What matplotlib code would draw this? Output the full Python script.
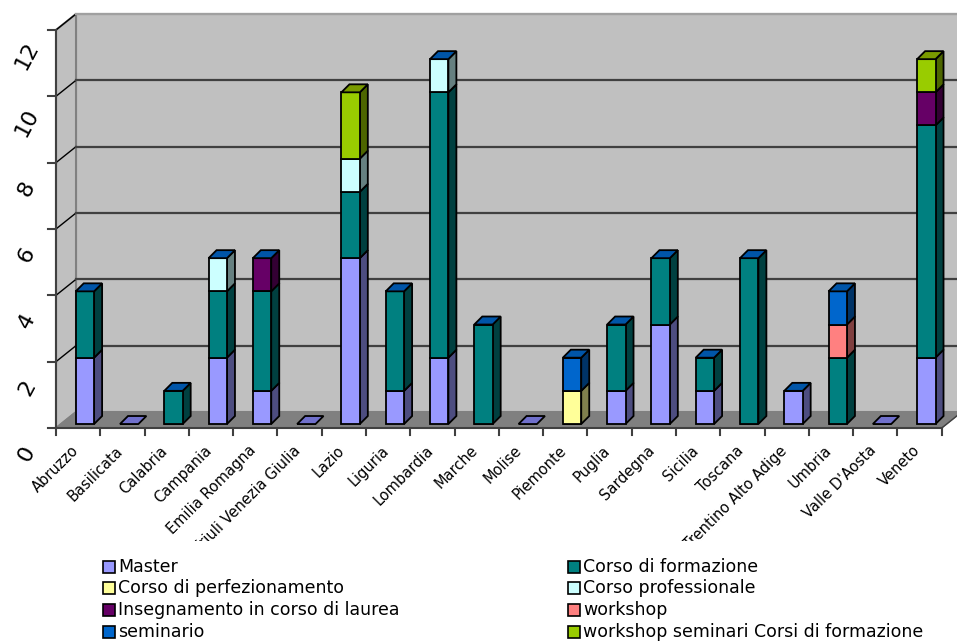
import matplotlib
matplotlib.use("Agg")
import matplotlib.pyplot as plt
from matplotlib.patches import Polygon, Rectangle
import numpy as np

regions = ["Abruzzo", "Basilicata", "Calabria", "Campania", "Emilia Romagna",
           "Friuli Venezia Giulia", "Lazio", "Liguria", "Lombardia", "Marche",
           "Molise", "Piemonte", "Puglia", "Sardegna", "Sicilia", "Toscana",
           "Trentino Alto Adige", "Umbria", "Valle D'Aosta", "Veneto"]

series_names = ["Master", "Corso di formazione", "Corso di perfezionamento",
                "Corso professionale", "Insegnamento in corso di laurea",
                "workshop", "seminario", "workshop seminari Corsi di formazione"]

master        = [2, 0, 0, 2, 1, 0, 5, 1, 2, 0, 0, 0, 1, 3, 1, 0, 1, 0, 0, 2]
corso_form    = [2, 0, 1, 2, 3, 0, 2, 3, 8, 3, 0, 0, 2, 2, 1, 5, 0, 2, 0, 7]
corso_perf    = [0, 0, 0, 0, 0, 0, 0, 0, 0, 0, 0, 1, 0, 0, 0, 0, 0, 0, 0, 0]
corso_prof    = [0, 0, 0, 1, 0, 0, 1, 0, 1, 0, 0, 0, 0, 0, 0, 0, 0, 0, 0, 0]
insegnamento  = [0, 0, 0, 0, 1, 0, 0, 0, 0, 0, 0, 0, 0, 0, 0, 0, 0, 0, 0, 1]
workshop      = [0, 0, 0, 0, 0, 0, 0, 0, 0, 0, 0, 0, 0, 0, 0, 0, 0, 1, 0, 0]
seminario     = [0, 0, 0, 0, 0, 0, 0, 0, 0, 0, 0, 1, 0, 0, 0, 0, 0, 1, 0, 0]
ws_corsi      = [0, 0, 0, 0, 0, 0, 2, 0, 0, 0, 0, 0, 0, 0, 0, 0, 0, 0, 0, 1]

series = [master, corso_form, corso_perf, corso_prof, insegnamento,
          workshop, seminario, ws_corsi]
front_colors = ["#9999FF", "#008080", "#FFFF99", "#CCFFFF", "#660066",
                "#FF8080", "#0066CC", "#99CC00"]
side_colors = ["#4D4D80", "#004040", "#80804D", "#668080", "#330033",
               "#804040", "#003366", "#4D6600"]
yticks = [0, 2, 4, 6, 8, 10, 12]

# geometry (data units)
PXU, PYU = 44.285, 33.17
WX, WY = 20 / PXU, 16 / PYU          # wall depth offset
FX, FY = 0.445, 0.12                  # bar front plane offset
BW = 18.4 / PXU                       # bar width
BX, BY = 8 / PXU, 8 / PYU             # bar depth
N = len(regions)

fig = plt.figure(figsize=(9.57, 6.43), dpi=100)
ax = fig.add_axes([0, 0, 1, 1])
ax.set_xlim(-56 / PXU, (957 - 56) / PXU)
ax.set_ylim(-(643 - 428) / PYU, 428 / PYU)
ax.axis("off")

wall = "#C0C0C0"
edge = "#808080"
# back wall
ax.add_patch(Polygon([(WX, WY), (N + WX + 2, WY), (N + WX + 2, 12 + WY), (WX, 12 + WY)],
                     closed=True, fc=wall, ec=edge, lw=1.5, zorder=1))
# left wall
ax.add_patch(Polygon([(0, 0), (WX, WY), (WX, 12 + WY), (0, 12)],
                     closed=True, fc=wall, ec=edge, lw=1.5, zorder=1))
# floor
ax.add_patch(Polygon([(0, 0), (N, 0), (N + WX, WY), (WX, WY)],
                     closed=True, fc="#808080", ec="#808080", lw=1, zorder=1))
# gridlines
for v in yticks[1:]:
    ax.plot([0, WX], [v, v + WY], color="#000000", lw=1.0, zorder=2)
    if v < 12:
        ax.plot([WX, N + WX + 2], [v + WY, v + WY], color="#404040", lw=1.6, zorder=2)
ax.plot([WX, N + WX + 2], [12 + WY, 12 + WY], color="#A0A0A0", lw=1.6, zorder=2)

# axes lines and ticks
ax.plot([0, 0], [0, 12], color="#404040", lw=1.5, zorder=3)
ax.plot([0, N], [0, 0], color="#404040", lw=1.5, zorder=3)
ax.plot([N, N + WX], [0, WY], color="#404040", lw=1.0, zorder=3)
for v in yticks:
    ax.plot([-8 / PXU, 0], [v, v], color="#404040", lw=1.5, zorder=3)
    ax.text(-29 / PXU, v - 26 / PYU, str(v), rotation=62, ha="center", va="center",
            fontsize=16, color="black", zorder=3)
for i in range(N + 1):
    ax.plot([i, i], [0, -7 / PYU], color="#404040", lw=1.5, zorder=3)

# bars
x = np.arange(N)
lefts = x + FX
bottom = np.zeros(N) + FY
for k, vals in enumerate(series):
    vals = np.array(vals, dtype=float)
    ax.bar(lefts, vals, width=BW, bottom=bottom, align="edge",
           color=front_colors[k], edgecolor="black", linewidth=1.3, zorder=5)
    for i in range(N):
        if vals[i] > 0:
            x1 = lefts[i] + BW
            b, t = bottom[i], bottom[i] + vals[i]
            ax.add_patch(Polygon([(x1, b), (x1 + BX, b + BY), (x1 + BX, t + BY), (x1, t)],
                                 closed=True, fc=side_colors[k], ec="black",
                                 lw=1.3, zorder=4))
    bottom = bottom + vals

totals = bottom
for i in range(N):
    if ws_corsi[i] > 0:
        tc = "#7A9A00"
    elif totals[i] > FY:
        tc = "#0055A8"
    else:
        tc = "#7070CC"
    x0, t = lefts[i], totals[i]
    ax.add_patch(Polygon([(x0, t), (x0 + BW, t), (x0 + BW + BX, t + BY), (x0 + BX, t + BY)],
                         closed=True, fc=tc, ec="black", lw=1.3, zorder=6))

# category labels (clipped at the bottom of the category area, as in the original)
clip = Rectangle((-5, (428 - 541) / PYU), 40, 30, transform=ax.transData)
for i, name in enumerate(regions):
    t = ax.text(i + 0.5 - 7 / PXU, -15 / PYU, name, rotation=45, ha="right", va="top",
                rotation_mode="anchor", fontsize=10.5, color="black", zorder=3,
                clip_on=True)
    t.set_clip_path(clip)

# legend
rows_y = [567, 588, 610, 632]
cols_x = [103, 568]
for k, name in enumerate(series_names):
    r, c = k // 2, k % 2
    px, py = cols_x[c], rows_y[r]
    xd = (px - 56) / PXU
    yd = (428 - py) / PYU
    ax.add_patch(Rectangle((xd, yd - 6 / PYU), 12 / PXU, 12 / PYU,
                           fc=front_colors[k], ec="black", lw=1.2, zorder=3))
    ax.text(xd + 15 / PXU, yd, name, ha="left", va="center", fontsize=12.5,
            color="black", zorder=3)

fig.savefig("out.png", dpi=100)
